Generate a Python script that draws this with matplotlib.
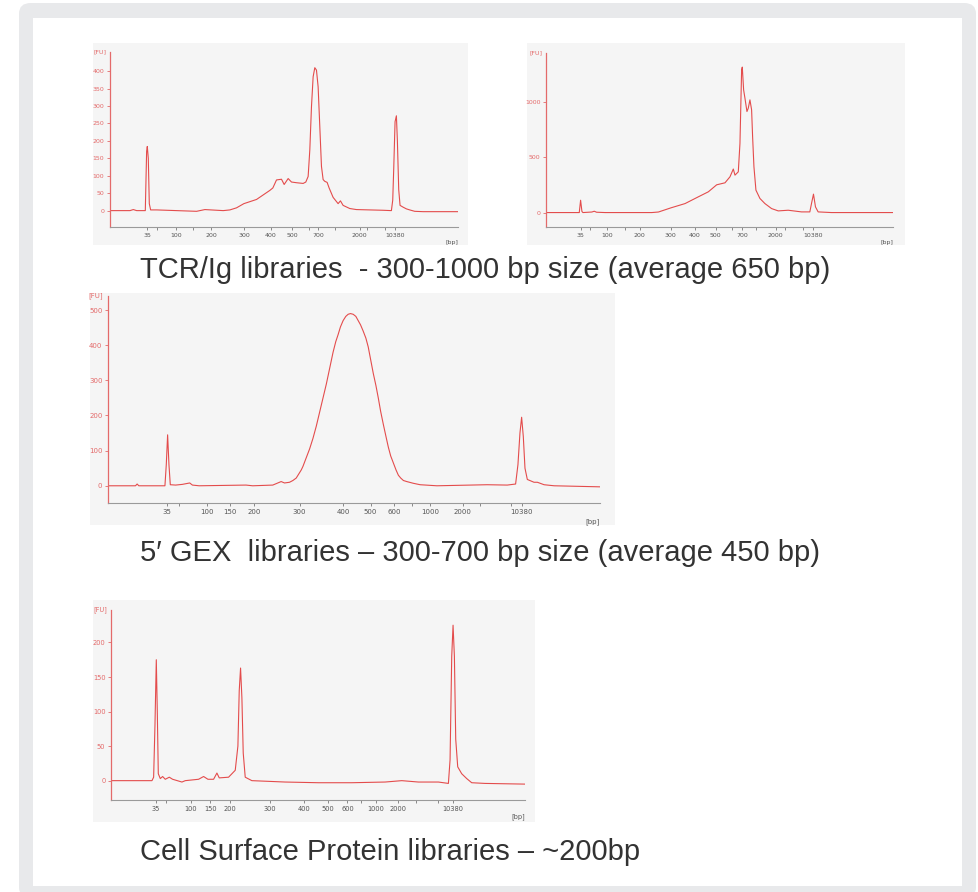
import matplotlib
matplotlib.use("Agg")
import matplotlib.pyplot as plt
from matplotlib.patches import FancyBboxPatch, Rectangle

# ---------------------------------------------------------------------------
# Electropherogram traces: (migration time, fluorescence [FU]) pairs
# ---------------------------------------------------------------------------
trace_tcr1 = [
    (60, 0), (120, 0), (130, 3), (140, 0), (166, 0), (170, 170), (172, 184),
    (175, 150), (178, 20), (182, 2), (200, 2), (260, 0), (320, -2), (345, 3),
    (400, 0), (420, 2), (440, 8), (462, 20), (500, 32), (520, 45), (540, 58),
    (549, 65), (560, 88), (575, 90), (583, 75), (595, 92), (605, 82),
    (620, 80), (640, 78), (648, 82), (655, 98), (660, 174), (665, 298),
    (670, 384), (675, 410), (680, 403), (685, 355), (690, 241), (695, 127),
    (700, 89), (705, 84), (712, 81), (718, 65), (730, 38), (745, 20),
    (752, 28), (760, 15), (780, 6), (800, 3), (840, 2), (880, 1), (905, 0),
    (909, 30), (912, 120), (916, 255), (920, 272), (923, 200), (927, 60),
    (931, 15), (940, 10), (950, 5), (960, 2), (975, -2), (1000, -3),
    (1105, -3),
]

trace_tcr2 = [
    (62, 0), (160, 0), (162, 0), (166, 111), (170, 10), (173, 0), (200, 5),
    (207, 12), (214, 3), (240, 0), (380, 0), (400, 5), (437, 42), (480, 81),
    (520, 142), (550, 187), (575, 250), (600, 268), (615, 322), (625, 392),
    (630, 337), (640, 367), (645, 623), (650, 1286), (652, 1310), (656, 1105),
    (660, 1030), (666, 910), (670, 940), (675, 1015), (680, 925), (683, 684),
    (687, 413), (693, 202), (705, 127), (720, 81), (740, 36), (760, 15),
    (790, 21), (830, 6), (855, 6), (860, 81), (866, 166), (872, 51),
    (880, 6), (920, 0), (1105, 0),
]

trace_gex = [
    (68, 0), (150, 0), (155, 5), (160, 0), (238, 0), (242, 60), (246, 145),
    (250, 60), (254, 3), (270, 2), (290, 4), (312, 8), (320, 2), (340, 0),
    (480, 2), (500, 0), (560, 2), (585, 12), (595, 8), (610, 10), (620, 15),
    (630, 22), (645, 45), (650, 55), (660, 80), (670, 105), (680, 135),
    (690, 170), (700, 210), (710, 250), (720, 290), (730, 335), (740, 380),
    (748, 410), (755, 430), (762, 452), (770, 470), (778, 482), (785, 488),
    (792, 490), (800, 488), (808, 482), (815, 470), (822, 458), (830, 440),
    (838, 420), (845, 395), (852, 360), (860, 320), (868, 285), (875, 250),
    (882, 212), (890, 175), (898, 140), (905, 110), (912, 85), (920, 65),
    (928, 45), (935, 30), (942, 22), (950, 15), (960, 12), (980, 7),
    (1000, 3), (1050, 0), (1150, 2), (1200, 3), (1260, 2), (1285, 5),
    (1292, 60), (1298, 150), (1303, 195), (1308, 140), (1313, 50),
    (1320, 18), (1340, 10), (1350, 10), (1370, 3), (1400, 0), (1537, -3),
]

trace_csp = [
    (77, 0), (200, 0), (205, 5), (209, 80), (213, 175), (216, 100),
    (219, 10), (225, 3), (232, 6), (240, 2), (252, 5), (262, 2), (290, -2),
    (300, 0), (340, 2), (355, 6), (368, 2), (385, 2), (395, 11), (402, 4),
    (430, 5), (450, 15), (458, 50), (462, 130), (466, 163), (470, 120),
    (474, 40), (480, 5), (500, 0), (600, -2), (700, -3), (800, -3),
    (900, -2), (950, 0), (1000, -2), (1060, -2), (1090, -4), (1095, 30),
    (1100, 180), (1104, 225), (1108, 180), (1112, 60), (1118, 20),
    (1130, 10), (1145, 3), (1160, -3), (1200, -4), (1320, -5),
]

# Ladder sizes [bp] and their migration times in each run
ladder_bp = [35, 50, 100, 150, 200, 300, 400, 500, 600, 700, 1000, 2000,
             3000, 7000, 10380]
ladder_tcr1 = [172, 200, 258, 310, 363, 463, 543, 608, 659, 685, 735, 810,
               831, 887, 915]
ladder_tcr2 = [167, 193, 245, 298, 344, 437, 510, 572, 622, 652, 694, 752,
               781, 833, 864]
ladder_gex = [245, 280, 363, 432, 505, 640, 770, 852, 922, 975, 1030, 1127,
              1180, 1272, 1303]
ladder_csp = [212, 242, 316, 375, 435, 555, 657, 728, 787, 829, 872, 940,
              992, 1058, 1103]
labels_tcr = [35, 100, 200, 300, 400, 500, 700, 2000, 10380]
labels_gex = [35, 100, 150, 200, 300, 400, 500, 600, 1000, 2000, 10380]

yticks_tcr1 = [0, 50, 100, 150, 200, 250, 300, 350, 400]
yticks_tcr2 = [0, 500, 1000]
yticks_gex = [0, 100, 200, 300, 400, 500]
yticks_csp = [0, 50, 100, 150, 200]

captions = [
    "TCR/Ig libraries  - 300-1000 bp size (average 650 bp)",
    "5\u2032 GEX  libraries \u2013 300-700 bp size (average 450 bp)",
    "Cell Surface Protein libraries \u2013 ~200bp",
]

# ---------------------------------------------------------------------------
W, H = 979, 892
fig = plt.figure(figsize=(W / 100, H / 100), dpi=100)
fig.patch.set_facecolor("white")


def fbox(x0, y0, x1, y1):
    """Pixel box (top-left origin) -> figure fraction rect."""
    return [x0 / W, 1 - y1 / H, (x1 - x0) / W, (y1 - y0) / H]


def fx(x):
    return x / W


def fy(y):
    return 1 - y / H


# card frame
frame = FancyBboxPatch((fx(19), fy(898)), fx(976) - fx(19), fy(3) - fy(898),
                       boxstyle="round,pad=0,rounding_size=0.012",
                       transform=fig.transFigure, facecolor="#e8e9eb",
                       edgecolor="none", zorder=0)
fig.patches.append(frame)
inner = Rectangle((fx(33), fy(886)), fx(962) - fx(33), fy(18) - fy(886),
                  transform=fig.transFigure, facecolor="white",
                  edgecolor="none", zorder=0.5)
fig.patches.append(inner)

RED = "#e23a3a"
PINK = "#e46a6a"
GREY = "#555555"


def panel(bg, ax_box, trace, ladder, labels, ylim, yticks, fs=4.5):
    bx0, by0, bx1, by1 = bg
    fig.patches.append(Rectangle((fx(bx0), fy(by1)), fx(bx1) - fx(bx0),
                                 fy(by0) - fy(by1), transform=fig.transFigure,
                                 facecolor="#f5f5f5", edgecolor="none",
                                 zorder=1))
    ax = fig.add_axes(fbox(*ax_box))
    ax.set_facecolor("none")
    ax.set_zorder(2)
    t, v = zip(*trace)
    ax.plot(t, v, color=RED, lw=0.8, alpha=0.9, solid_joinstyle="round")
    ax.set_xlim(t[0], t[-1])
    ax.set_ylim(*ylim)
    for s in ("top", "right"):
        ax.spines[s].set_visible(False)
    ax.spines["left"].set_color(PINK)
    ax.spines["left"].set_linewidth(0.9)
    ax.spines["bottom"].set_color("#9a9a9a")
    ax.spines["bottom"].set_linewidth(0.8)
    ax.set_xticks(ladder)
    ax.set_xticklabels([str(b) if b in labels else "" for b in ladder_bp])
    ax.tick_params(axis="x", length=2.5, width=0.6, color="#777777",
                   labelsize=fs, labelcolor=GREY, pad=2)
    ax.set_yticks(yticks)
    ax.tick_params(axis="y", length=2.5, width=0.6, color=PINK,
                   labelsize=fs, labelcolor=PINK, pad=1.5)
    ax.text(-0.01, 1.0, "[FU]", transform=ax.transAxes, ha="right",
            va="center", fontsize=fs, color=PINK)
    ax.text(1.0, -0.09, "[bp]", transform=ax.transAxes, ha="right",
            va="center", fontsize=fs, color=GREY)
    return ax


panel((93, 43, 468, 245), (110, 52, 458, 227), trace_tcr1, ladder_tcr1,
      labels_tcr, (-47, 455), yticks_tcr1)
panel((527, 43, 905, 245), (546, 53, 893, 227), trace_tcr2, ladder_tcr2,
      labels_tcr, (-130, 1437), yticks_tcr2)
panel((90, 293, 615, 525), (108, 296, 600, 503), trace_gex, ladder_gex,
      labels_gex, (-49, 540), yticks_gex, fs=5)
panel((93, 600, 535, 822), (111, 610, 525, 800), trace_csp, ladder_csp,
      labels_gex, (-28, 247), yticks_csp, fs=4.8)

for text, y in zip(captions, (270, 553, 852)):
    fig.text(fx(140), fy(y), text, ha="left", va="center", fontsize=21,
             family="Liberation Sans", color="#333333")

fig.savefig("out.png", dpi=100)
